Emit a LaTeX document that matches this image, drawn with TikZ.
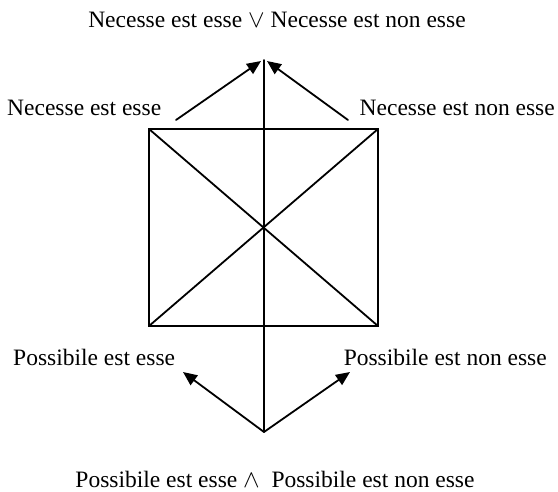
\documentclass[tikz,border=0pt]{standalone}
\usepackage{fontspec}
\setmainfont{Liberation Serif}
\usetikzlibrary{arrows.meta}
\begin{document}
\begin{tikzpicture}[x=1pt,y=-1pt,
  lbl/.style={inner sep=0pt,font=\fontsize{23.5}{27}\selectfont},
  ln/.style={line width=1.8pt,line cap=round,line join=miter},
  arr/.style={ln,-{Triangle[length=14pt,width=12pt]}}]
\useasboundingbox (0,0) rectangle (558,491);
% texts
\node[lbl,anchor=base] (topt) at (277,27) {Necesse est esse $\vee$ Necesse est non esse};
\node[lbl,anchor=base west] (nl) at (7,115) {Necesse est esse};
\node[lbl,anchor=base east] (nr) at (555,115) {Necesse est non esse};
\node[lbl,anchor=base west] (pl) at (13,365) {Possibile est esse};
\node[lbl,anchor=base east] (pr) at (547,365) {Possibile est non esse};
\node[lbl,anchor=base] (bott) at (275,487) {Possibile est esse $\wedge$\ \ Possibile est non esse};
% geometry
\coordinate (tl) at (149,129);
\coordinate (tr) at (378,129);
\coordinate (bl) at (149,326);
\coordinate (br) at (378,326);
\coordinate (top) at (264,60);
\coordinate (bot) at (264,432);
\coordinate (tipL) at (261,61);
\coordinate (tipR) at (267,61);
\coordinate (sL) at (176,120);
\coordinate (sR) at (348,120);
\coordinate (pL) at (183,372);
\coordinate (pR) at (350,372);
\draw[ln] (tl) rectangle (br);
\draw[ln] (tl) -- (br);
\draw[ln] (tr) -- (bl);
\draw[ln] (bot) -- (top);
\draw[arr] (sL) -- (tipL);
\draw[arr] (sR) -- (tipR);
\draw[arr] (bot) -- (pL);
\draw[arr] (bot) -- (pR);
\end{tikzpicture}
\end{document}
